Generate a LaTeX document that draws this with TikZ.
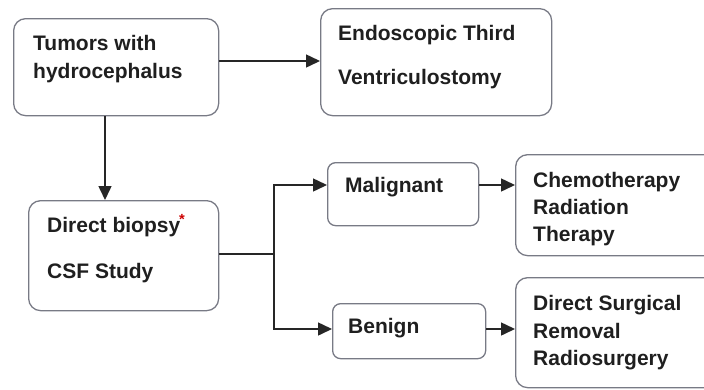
\documentclass[tikz,border=0pt]{standalone}
\usepackage{fontspec}
\setmainfont{Liberation Sans}
\usetikzlibrary{arrows.meta,calc}
\definecolor{boxgray}{rgb}{0.47,0.48,0.52}
\definecolor{txt}{rgb}{0.12,0.12,0.12}
\definecolor{linec}{rgb}{0.15,0.15,0.15}
\begin{document}
\begin{tikzpicture}[x=1pt,y=-1pt,
  box/.style={draw=boxgray,line width=1.3pt,rounded corners=12pt,inner sep=0pt,anchor=north west},
  sbox/.style={box,rounded corners=8pt},
  lbl/.style={anchor=base west,inner sep=0pt,text=txt,font=\fontsize{21}{25}\selectfont\bfseries},
  conn/.style={draw=linec,line width=1.5pt},
  arr/.style={conn,-{Triangle[length=14pt,width=13pt]}}]
\useasboundingbox (0,0) rectangle (704,389);
\clip (0,0) rectangle (704,389);
% boxes
\node[box,minimum width=205pt,minimum height=97pt] (b1) at (13,18) {};
\node[box,minimum width=231pt,minimum height=107pt] (b2) at (320,8) {};
\node[box,minimum width=190pt,minimum height=110pt] (b3) at (28,200) {};
\node[sbox,minimum width=151pt,minimum height=63pt] (mal) at (327,162) {};
\node[box,minimum width=205pt,minimum height=101pt] (chem) at (515,154) {};
\node[sbox,minimum width=153pt,minimum height=55pt] (ben) at (332,303) {};
\node[box,minimum width=205pt,minimum height=110pt] (surg) at (515,277) {};
% texts
\node[lbl] (t1a) at (33,50) {Tumors with};
\node[lbl] (t1b) at (33,78) {hydrocephalus};
\node[lbl] (t2a) at (338,40) {Endoscopic Third};
\node[lbl] (t2b) at (338,84) {Ventriculostomy};
\node[lbl] (t3a) at (47,232) {Direct biopsy\textsuperscript{\kern-1pt\textcolor{red!80!black}{*}}};
\node[lbl] (t3b) at (47,278) {CSF Study};
\node[lbl] (t4) at (345,192) {Malignant};
\node[lbl] (t5a) at (533,187) {Chemotherapy};
\node[lbl] (t5b) at (533,214) {Radiation};
\node[lbl] (t5c) at (533,241) {Therapy};
\node[lbl] (t6) at (348,333) {Benign};
\node[lbl] (t7a) at (533,310) {Direct Surgical};
\node[lbl] (t7b) at (533,338) {Removal};
\node[lbl] (t7c) at (533,365) {Radiosurgery};
% connectors
\coordinate (y1) at (0,61);
\coordinate (x1) at (105,0);
\coordinate (ym) at (0,185);
\coordinate (yb) at (0,329);
\coordinate (j) at (274,254);
\draw[arr] (b1.east |- y1) -- (b2.west |- y1);
\draw[arr] (b1.south -| x1) -- (b3.north -| x1);
\draw[conn] (b3.east |- j) -- (j);
\draw[arr] (j) |- (mal.west |- ym);
\draw[arr] (j) |- (ben.west |- yb);
\draw[arr] (mal.east |- ym) -- (chem.west |- ym);
\draw[arr] (ben.east |- yb) -- (surg.west |- yb);
\end{tikzpicture}
\end{document}
